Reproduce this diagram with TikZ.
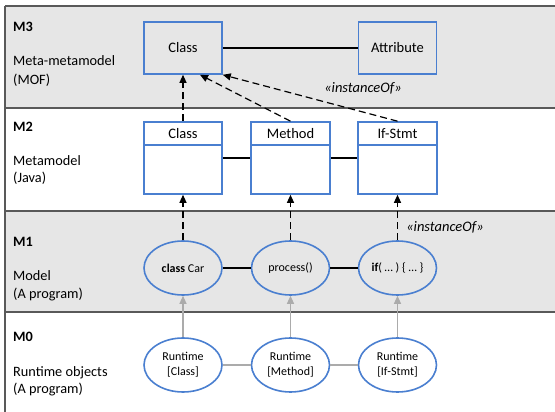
\documentclass[tikz,border=0pt]{standalone}
\usepackage{fontspec}
\setmainfont{Carlito}
\usetikzlibrary{arrows.meta,shapes.geometric}

\definecolor{bandgray}{HTML}{E6E6E6}
\definecolor{umlblue}{HTML}{4A7FD0}
\definecolor{framegray}{HTML}{595959}
\definecolor{linkgray}{HTML}{ABABAB}

\begin{document}
\begin{tikzpicture}[x=1pt,y=-1pt,
  umlbox/.style={draw=umlblue, line width=1.6pt, rectangle, inner sep=0pt,
    minimum width=78pt, font=\fontsize{14.5}{17}\selectfont},
  objell/.style={draw=umlblue, line width=1.6pt, ellipse, inner sep=0pt,
    minimum width=78pt, minimum height=54pt, align=center,
    font=\fontsize{12}{15}\selectfont},
  levellabel/.style={anchor=west, inner sep=0pt, text height=10pt, text depth=3pt,
    font=\fontsize{14.3}{17}\selectfont},
  stereo/.style={inner sep=0pt, font=\fontsize{14.5}{17}\selectfont\itshape},
  instarrow/.style={draw=black, line width=1.2pt, dash pattern=on 7pt off 4pt,
    -{Triangle[length=8pt,width=7pt]}},
  runarrow/.style={draw=linkgray, line width=1.2pt, -{Triangle[length=8pt,width=7pt]}},
  assoc/.style={draw=black, line width=1.2pt},
  runlink/.style={draw=linkgray, line width=1.2pt},
  band/.style={draw=framegray, line width=1.2pt}
]
\useasboundingbox (0,0) rectangle (555,412);
\clip (0,0) rectangle (555,412);

% level bands
\fill[bandgray] (5,6) rectangle (560,108);
\fill[bandgray] (5,211) rectangle (560,312);
\draw[band, line width=1.6pt] (5,6) -- (560,6);
\draw[band] (5,6) -- (5,420);
\draw[band] (5,108) -- (560,108);
\draw[band] (5,211) -- (560,211);
\draw[band] (5,312) -- (560,312);

% level captions
\node[levellabel] (l3a) at (13,28) {\bfseries M3};
\node[levellabel] (l3b) at (13,62) {Meta-metamodel};
\node[levellabel] (l3c) at (13,81) {(MOF)};
\node[levellabel] (l2a) at (13,128) {\bfseries M2};
\node[levellabel] (l2b) at (13,162) {Metamodel};
\node[levellabel] (l2c) at (13,179) {(Java)};
\node[levellabel] (l1a) at (13,243) {\bfseries M1};
\node[levellabel] (l1b) at (13,277) {Model};
\node[levellabel] (l1c) at (13,295) {(A program)};
\node[levellabel] (l0a) at (13,338) {\bfseries M0};
\node[levellabel] (l0b) at (13,373) {Runtime objects};
\node[levellabel] (l0c) at (13,390) {(A program)};

% M3: MOF elements
\node[umlbox, minimum height=52pt] (c3) at (183,48) {Class};
\node[umlbox, minimum height=52pt] (a3) at (397.5,48) {Attribute};
\draw[assoc] (c3) -- (a3);

% M2: Java metamodel classes
\node[umlbox, fill=white, minimum height=72pt] (c2) at (183,158) {};
\node[umlbox, fill=white, minimum height=72pt, minimum width=79pt] (m2) at (290.5,158) {};
\node[umlbox, fill=white, minimum height=72pt, minimum width=79pt] (i2) at (397.5,158) {};
\foreach \b/\t in {c2/Class, m2/Method, i2/If-Stmt}{
  \draw[umlblue, line width=1.6pt] ([yshift=-24pt]\b.north west) -- ([yshift=-24pt]\b.north east);
  \node[font=\fontsize{14.5}{17}\selectfont, inner sep=0pt] (\b-head) at ([yshift=-12.5pt]\b.north) {\t};
}
\draw[assoc] (c2) -- (m2);
\draw[assoc] (m2) -- (i2);

% instanceOf relations M2 -> M3
\draw[instarrow] (c2.north) -- (c3.south);
\draw[instarrow] (m2.north) -- ([xshift=17pt]c3.south);
\draw[instarrow] (i2.north) -- (c3.south east);
\node[stereo] (s3) at (363,88) {«instanceOf»};

% M1: program elements
\node[objell, fill=bandgray] (e1) at (183,268) {{\bfseries class} Car};
\node[objell, fill=bandgray] (e2) at (290.5,268) {process()};
\node[objell, fill=bandgray] (e3) at (397.5,268) {{\bfseries if}( … ) \{ … \}};
\draw[assoc] (e1) -- (e2);
\draw[assoc] (e2) -- (e3);

% instanceOf relations M1 -> M2
\draw[instarrow] (e1.north) -- (c2.south);
\draw[instarrow] (e2.north) -- (m2.south);
\draw[instarrow] (e3.north) -- (i2.south);
\node[stereo] (s1) at (445,227) {«instanceOf»};

% M0: runtime objects
\node[objell, fill=white] (r1) at (183,365) {Runtime\\{}[Class]};
\node[objell, fill=white] (r2) at (290.5,365) {Runtime\\{}[Method]};
\node[objell, fill=white] (r3) at (397.5,365) {Runtime\\{}[If-Stmt]};
\draw[runlink] (r1) -- (r2);
\draw[runlink] (r2) -- (r3);
\draw[runarrow] (r1.north) -- (e1.south);
\draw[runarrow] (r2.north) -- (e2.south);
\draw[runarrow] (r3.north) -- (e3.south);
\end{tikzpicture}
\end{document}
